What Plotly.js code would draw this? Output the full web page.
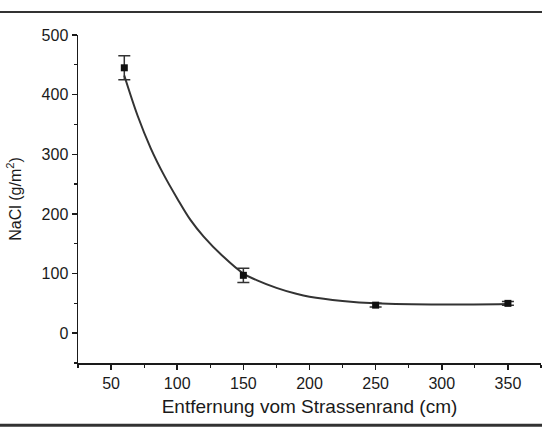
<!DOCTYPE html>
<html>
<head>
<meta charset="utf-8">
<script src="https://cdn.plot.ly/plotly-3.0.1.min.js"></script>
<style>html,body{margin:0;padding:0;background:#fff;}#chart{width:542px;height:428px;}</style>
</head>
<body>
<div id="chart"></div>
<script>
// Measured data points
const distance = [60, 150, 250, 350];
const nacl = [445, 97, 47, 50];
const naclErr = [20, 12, 3, 3];

// Fitted curve
const curveX = [60, 70, 80, 90, 100, 110, 120, 135, 150, 160, 175, 190, 200, 225, 250, 300, 350];
const curveY = [432, 365, 310, 265, 226, 190, 162, 128, 100, 89, 76, 66, 61, 54, 50, 48, 49];

const xTicks = [50, 100, 150, 200, 250, 300, 350];
const yTicks = [0, 100, 200, 300, 400, 500];

const ink = '#1a1a1a';
const fam = 'Liberation Sans, Arial, sans-serif';
const traces = [
  {
    x: curveX, y: curveY, type: 'scatter', mode: 'lines',
    line: {color: '#333', width: 2, shape: 'spline', smoothing: 1.0},
    hoverinfo: 'skip'
  },
  {
    x: distance, y: nacl, type: 'scatter', mode: 'markers',
    marker: {symbol: 'square', size: 7, color: '#111'},
    error_y: {type: 'data', array: naclErr, visible: true, color: '#333', thickness: 1.5, width: 6}
  }
];

const axisCommon = {
  showgrid: false, zeroline: false, showline: true, linecolor: ink, linewidth: 1.5,
  ticks: 'outside', ticklen: 5, tickwidth: 1.5, tickcolor: ink,
  tickfont: {family: fam, size: 16, color: ink},
  mirror: false
};

const layout = {
  width: 542, height: 428,
  margin: {l: 78, r: 1, t: 35, b: 65},
  paper_bgcolor: '#fff', plot_bgcolor: '#fff',
  showlegend: false,
  xaxis: Object.assign({}, axisCommon, {
    range: [25, 375], tickvals: xTicks,
    minor: {dtick: 25, tick0: 25, ticks: 'outside', ticklen: 3, tickwidth: 1.2, tickcolor: ink},
    title: {text: 'Entfernung vom Strassenrand (cm)', standoff: 9,
      font: {family: fam, size: 19, color: ink}}
  }),
  yaxis: Object.assign({}, axisCommon, {
    range: [-50, 500], tickvals: yTicks,
    minor: {dtick: 50, tick0: 0, ticks: 'outside', ticklen: 3, tickwidth: 1.2, tickcolor: ink},
    title: {text: 'NaCl (g/m<sup>2</sup>)', standoff: 16,
      font: {family: fam, size: 16, color: ink}}
  }),
  shapes: [
    {type: 'line', xref: 'paper', yref: 'paper', x0: -0.17, x1: 1.01, y0: 1.07, y1: 1.07,
     line: {color: '#333', width: 2}},
    {type: 'line', xref: 'paper', yref: 'paper', x0: -0.17, x1: 1.01, y0: -0.19, y1: -0.19,
     line: {color: '#333', width: 3}}
  ]
};

Plotly.newPlot('chart', traces, layout, {displayModeBar: false, staticPlot: true});
</script>
</body>
</html>
